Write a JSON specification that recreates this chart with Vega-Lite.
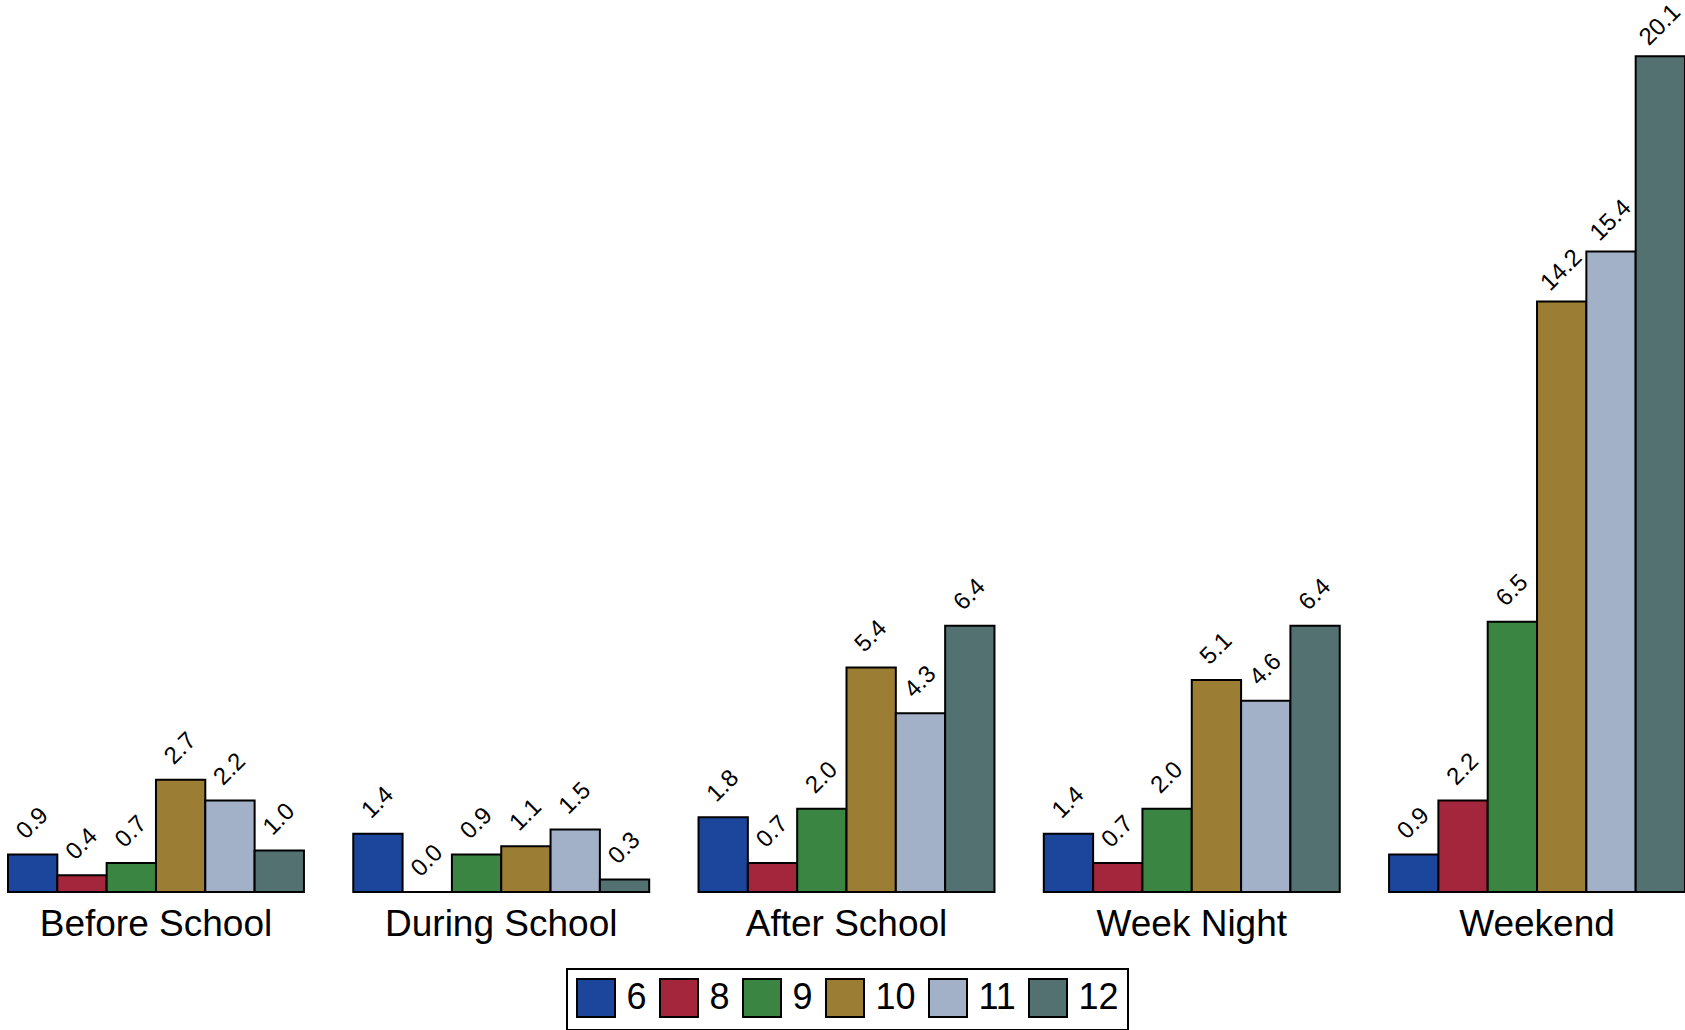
{
  "$schema": "https://vega.github.io/schema/vega-lite/v6.json",
  "width": 1677,
  "height": 892,
  "padding": {"left": 8, "top": 0, "right": 0, "bottom": 138},
  "autosize": {"type": "none"},
  "background": "white",
  "config": {"view": {"stroke": null}, "font": "Liberation Sans"},
  "data": {"values": [
    {"time": "Before School", "grade": "6", "value": 0.9},
    {"time": "Before School", "grade": "8", "value": 0.4},
    {"time": "Before School", "grade": "9", "value": 0.7},
    {"time": "Before School", "grade": "10", "value": 2.7},
    {"time": "Before School", "grade": "11", "value": 2.2},
    {"time": "Before School", "grade": "12", "value": 1.0},
    {"time": "During School", "grade": "6", "value": 1.4},
    {"time": "During School", "grade": "8", "value": 0.0},
    {"time": "During School", "grade": "9", "value": 0.9},
    {"time": "During School", "grade": "10", "value": 1.1},
    {"time": "During School", "grade": "11", "value": 1.5},
    {"time": "During School", "grade": "12", "value": 0.3},
    {"time": "After School", "grade": "6", "value": 1.8},
    {"time": "After School", "grade": "8", "value": 0.7},
    {"time": "After School", "grade": "9", "value": 2.0},
    {"time": "After School", "grade": "10", "value": 5.4},
    {"time": "After School", "grade": "11", "value": 4.3},
    {"time": "After School", "grade": "12", "value": 6.4},
    {"time": "Week Night", "grade": "6", "value": 1.4},
    {"time": "Week Night", "grade": "8", "value": 0.7},
    {"time": "Week Night", "grade": "9", "value": 2.0},
    {"time": "Week Night", "grade": "10", "value": 5.1},
    {"time": "Week Night", "grade": "11", "value": 4.6},
    {"time": "Week Night", "grade": "12", "value": 6.4},
    {"time": "Weekend", "grade": "6", "value": 0.9},
    {"time": "Weekend", "grade": "8", "value": 2.2},
    {"time": "Weekend", "grade": "9", "value": 6.5},
    {"time": "Weekend", "grade": "10", "value": 14.2},
    {"time": "Weekend", "grade": "11", "value": 15.4},
    {"time": "Weekend", "grade": "12", "value": 20.1}
  ]},
  "encoding": {
    "x": {
      "field": "time", "type": "nominal",
      "sort": ["Before School", "During School", "After School", "Week Night", "Weekend"],
      "scale": {"paddingInner": 0.142857, "paddingOuter": 0},
      "axis": {"title": null, "domain": false, "ticks": false, "labelAngle": 0, "labelFontSize": 37, "labelColor": "black", "labelPadding": 14, "labelLimit": 0, "labelFont": "Liberation Sans"}
    },
    "xOffset": {
      "field": "grade", "type": "nominal",
      "sort": ["6", "8", "9", "10", "11", "12"],
      "scale": {"paddingInner": 0, "paddingOuter": 0}
    },
    "y": {
      "field": "value", "type": "quantitative",
      "scale": {"domain": [0, 21.45], "nice": false, "zero": true},
      "axis": null
    }
  },
  "layer": [
    {
      "mark": {"type": "bar", "stroke": "black", "strokeWidth": 2},
      "encoding": {
        "color": {
          "field": "grade", "type": "nominal",
          "scale": {"domain": ["6", "8", "9", "10", "11", "12"], "range": ["#1b469b", "#a4263c", "#3a8541", "#9b7d34", "#a2b0c8", "#527170"]},
          "legend": {
            "orient": "none", "legendX": 559, "legendY": 969,
            "direction": "horizontal", "title": null,
            "symbolType": "square", "symbolSize": 1444,
            "symbolStrokeColor": "black", "symbolStrokeWidth": 2, "symbolOpacity": 1,
            "labelFontSize": 36, "labelColor": "black", "labelOffset": 10.5, "labelFont": "Liberation Sans",
            "columnPadding": 9, "strokeColor": "black", "fillColor": "white", "padding": 9,
            "encode": {"legend": {"update": {"strokeWidth": {"value": 2}}}}
          }
        }
      }
    },
    {
      "mark": {"type": "text", "angle": 315, "align": "center", "baseline": "middle", "fontSize": 24, "xOffset": 4, "yOffset": -31, "color": "black", "font": "Liberation Sans"},
      "encoding": {"text": {"field": "value", "type": "quantitative", "format": ".1f"}}
    }
  ]
}
